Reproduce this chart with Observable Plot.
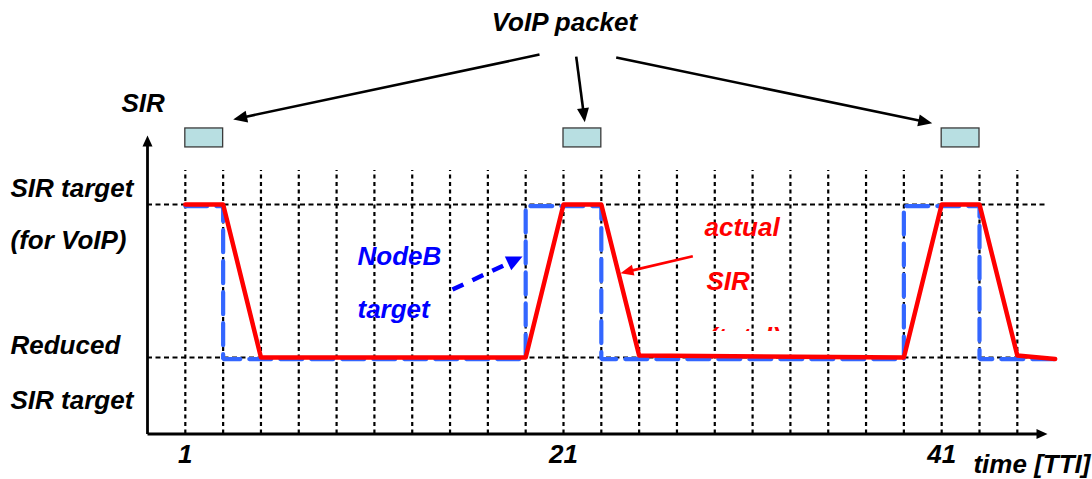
<!DOCTYPE html>
<html><head><meta charset="utf-8">
<script src="https://cdn.jsdelivr.net/npm/d3@7"></script>
<script src="https://cdn.jsdelivr.net/npm/@observablehq/plot@0.6"></script>
<style>
html,body{margin:0;padding:0;background:#fff;}
#chart{width:1092px;height:479px;overflow:hidden;}
svg{overflow:visible;}
</style></head><body><div id="chart"></div>
<script>
// ---------- data ----------
// TTI grid (dashed vertical lines every 2 TTI)
const ttiGrid = [1,3,5,7,9,11,13,15,17,19,21,23,25,27,29,31,33,35,37,39,41,43,45];
// SIR levels (relative units)
const sirLevels = [2, 1];              // SIR target (VoIP), reduced SIR target
// actual SIR (red)
const actualT = [1, 3, 5, 19, 21, 23, 25, 39, 41, 43, 45, 47];
const actualV = [2, 2, 1, 1, 2, 2, 1.013, 1, 2, 2, 1.013, 0.99];
// NodeB target (blue dashed, step)
const nodebT = [1, 3, 3, 19, 19, 23, 23, 39, 39, 43, 43, 47];
const nodebV = [1.99, 1.99, 0.99, 0.99, 1.99, 1.99, 0.99, 0.99, 1.99, 1.99, 0.99, 0.99];
// VoIP packets: start TTI, duration 2 TTI
const packetStart = [1, 21, 41];
const packetLen = [2, 2, 2];
// x tick labels
const tickValues = [1, 21, 41];

// ---------- annotations (data units) ----------
const labelText = ["SIR", "SIR target", "(for VoIP)", "Reduced", "SIR target", "time [TTI]"];
const labelT = [-2.375, -8.245, -8.245, -8.245, -8.245, 42.68];
const labelV = [2.603, 2.048, 1.706, 1.020, 0.665, 0.245];
const titleText = ["VoIP packet"];
const titleT = [21.05];
const titleV = [3.131];
const blueText = ["NodeB", "target"];
const blueT = [10.106, 10.106];
const blueV = [1.606, 1.261];
const redText = ["actual", "SIR"];
const redT = [28.457, 28.563];
const redV = [1.797, 1.438];
const redClipText = ["(total)"];
const redClipT = [28.67];
const redClipV = [1.078];
const packetLow = [2.373, 2.373, 2.373];
const packetHigh = [2.497, 2.497, 2.497];
// black arrows from "VoIP packet" to each packet
const voipFromT = [19.731, 21.672, 23.787];
const voipFromV = [2.980, 2.967, 2.961];
const voipToT = [3.532, 22.127, 40.499];
const voipToV = [2.556, 2.538, 2.531];
// axes arrows
const axisFromT = [-1, -1];
const axisFromV = [0.5, 0.5];
const axisToT = [46.596, -1];
const axisToV = [0.5, 2.451];
// NodeB pointer and actual-SIR pointer
const blueFromT = [15.13], blueFromV = [1.444], blueToT = [18.832], blueToV = [1.660];
const redFromT = [27.838], redFromV = [1.662], redToT = [24.015], redToV = [1.551];
const gridTop = 2.222;
const refLineEnd = 46.5;

// ---------- layout ----------
const W = 1092, H = 479;
const M = {left: 147, right: 37.36, top: 127.5, bottom: 45.5};
const xDomain = [-1, 47], yDomain = [0.5, 2.5];
const sx = Plot.scale({x: {domain: xDomain, range: [M.left, W - M.right]}});
const sy = Plot.scale({y: {domain: yDomain, range: [H - M.bottom, M.top]}});

function arrows(fT, fV, tT, tV, head) {
  return fT.map((_, i) => {
    const px1 = sx.apply(fT[i]), py1 = sy.apply(fV[i]);
    const px2 = sx.apply(tT[i]), py2 = sy.apply(tV[i]);
    const dx = px2 - px1, dy = py2 - py1, L = Math.hypot(dx, dy);
    const bx = px2 - dx / L * head * 0.7, by = py2 - dy / L * head * 0.7;
    return {x1: fT[i], y1: fV[i], x2: sx.invert(bx), y2: sy.invert(by),
            tx: tT[i], ty: tV[i], rot: Math.atan2(dx, -dy) * 180 / Math.PI};
  });
}
const voipArrows = arrows(voipFromT, voipFromV, voipToT, voipToV, 14);
const axisArrows = arrows(axisFromT, axisFromV, axisToT, axisToV, 11);
const blueArrow = arrows(blueFromT, blueFromV, blueToT, blueToV, 16);
const redArrow = arrows(redFromT, redFromV, redToT, redToV, 13);

const actual = actualT.map((t, i) => ({t, v: actualV[i]}));
const nodeb = nodebT.map((t, i) => ({t, v: nodebV[i]}));
const packets = packetStart.map((s, i) => ({s, e: s + packetLen[i], lo: packetLow[i], hi: packetHigh[i]}));
const mk = (txt, T, V) => txt.map((s, i) => ({s, t: T[i], v: V[i]}));

const FONT = "'Liberation Sans', Arial, Helvetica, sans-serif";
const txtStyle = {fontFamily: FONT, fontSize: 26, fontWeight: "bold", fontStyle: "italic", lineAnchor: "bottom"};

const svg = Plot.plot({
  width: W, height: H,
  marginLeft: M.left, marginRight: M.right, marginTop: M.top, marginBottom: M.bottom,
  x: {domain: xDomain, axis: null},
  y: {domain: yDomain, axis: null},
  style: {background: "white", overflow: "visible"},
  marks: [
    // dashed grid
    Plot.ruleX(ttiGrid, {x: d => d, y1: yDomain[0], y2: gridTop, stroke: "black", strokeWidth: 2.2, strokeDasharray: "4,3.5"}),
    Plot.ruleY(sirLevels, {y: d => d, x1: xDomain[0], x2: refLineEnd, stroke: "black", strokeWidth: 2.2, strokeDasharray: "5,3.5"}),
    // axes with arrow heads
    Plot.link(axisArrows, {x1: "x1", y1: "y1", x2: "x2", y2: "y2", stroke: "black", strokeWidth: 2.8}),
    Plot.vector(axisArrows, {x: "tx", y: "ty", rotate: "rot", length: 11, r: 5, shape: "spike", anchor: "end", fill: "black", stroke: "none"}),
    Plot.axisX({ticks: tickValues, tickSize: 0, tickPadding: 11, fontSize: 26, fontWeight: "bold", fontStyle: "italic", fontFamily: FONT, fill: "black", label: null}),
    // NodeB target (blue dashed)
    Plot.line(nodeb, {x: "t", y: "v", stroke: "#3366ff", strokeWidth: 4.2, strokeDasharray: "22,9", strokeLinejoin: "miter"}),
    // actual SIR (red)
    Plot.line(actual, {x: "t", y: "v", stroke: "#ff0000", strokeWidth: 4.5, strokeLinejoin: "round"}),
    // VoIP packets
    Plot.rect(packets, {x1: "s", x2: "e", y1: "lo", y2: "hi", fill: "#b8dfe2", stroke: "#3a3a3a", strokeWidth: 1.3}),
    // VoIP arrows
    Plot.link(voipArrows, {x1: "x1", y1: "y1", x2: "x2", y2: "y2", stroke: "black", strokeWidth: 2.6}),
    Plot.vector(voipArrows, {x: "tx", y: "ty", rotate: "rot", length: 14, r: 6, shape: "spike", anchor: "end", fill: "black", stroke: "none"}),
    // NodeB pointer (blue dashed)
    Plot.link(blueArrow, {x1: "x1", y1: "y1", x2: "x2", y2: "y2", stroke: "#0000ff", strokeWidth: 4.5, strokeDasharray: "12,10"}),
    Plot.vector(blueArrow, {x: "tx", y: "ty", rotate: "rot", length: 16, r: 7.5, shape: "spike", anchor: "end", fill: "#0000ff", stroke: "none"}),
    // actual SIR pointer (red)
    Plot.link(redArrow, {x1: "x1", y1: "y1", x2: "x2", y2: "y2", stroke: "#ff0000", strokeWidth: 2.6}),
    Plot.vector(redArrow, {x: "tx", y: "ty", rotate: "rot", length: 13, r: 5.5, shape: "spike", anchor: "end", fill: "#ff0000", stroke: "none"}),
    // texts
    Plot.text(mk(labelText, labelT, labelV), {x: "t", y: "v", text: "s", textAnchor: "start", fill: "black", ...txtStyle}),
    Plot.text(mk(titleText, titleT, titleV), {x: "t", y: "v", text: "s", textAnchor: "middle", fill: "black", ...txtStyle}),
    Plot.text(mk(blueText, blueT, blueV), {x: "t", y: "v", text: "s", textAnchor: "start", fill: "#0000ff", ...txtStyle}),
    Plot.text(mk(redText, redT, redV), {x: "t", y: "v", text: "s", textAnchor: "start", fill: "#ff0000", ...txtStyle}),
    Plot.text(mk(redClipText, redClipT, redClipV), {x: "t", y: "v", text: "s", textAnchor: "start", fill: "#ff0000", ...txtStyle})
  ]
});

// clip the partially hidden red note so only its top shows (as in the original)
const s = d3.select(svg);
const defs = s.insert("defs", ":first-child");
defs.append("clipPath").attr("id", "noteClip").attr("clipPathUnits", "userSpaceOnUse")
  .append("rect").attr("x", -2000).attr("y", -2000).attr("width", 5000).attr("height", 2330.5);
s.selectAll("text").filter(function () { return this.textContent === redClipText[0]; })
  .each(function () { d3.select(this.parentNode).attr("clip-path", "url(#noteClip)"); });

document.getElementById("chart").appendChild(svg);
</script>
</body></html>
